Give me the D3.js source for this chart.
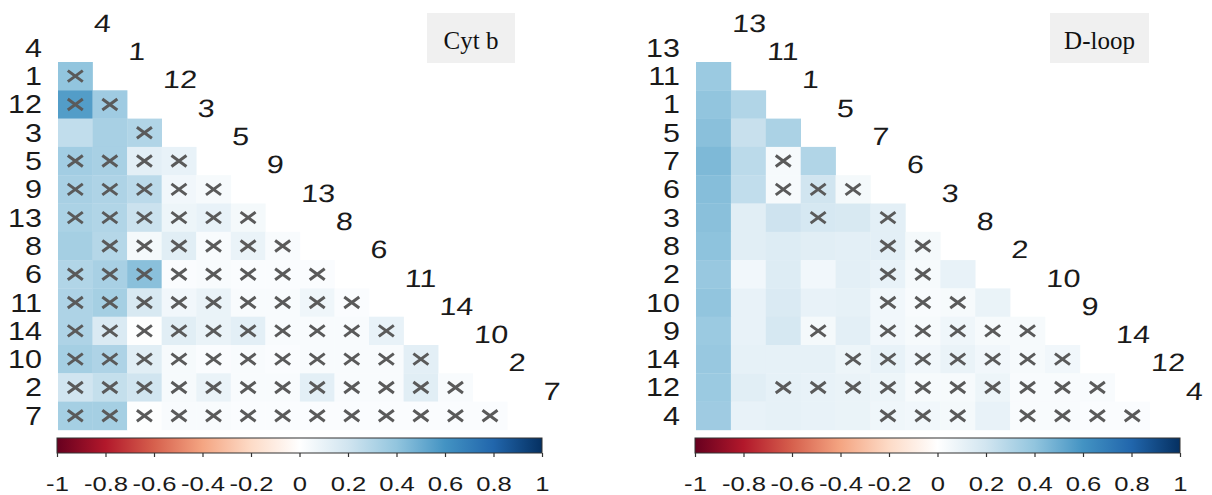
<!DOCTYPE html>
<html>
<head>
<meta charset="utf-8">
<script src="https://cdn.jsdelivr.net/npm/d3@7"></script>
<style>
  body { margin: 0; background: #fff; }
  svg { display: block; }
</style>
</head>
<body>
<script>
// Cyt b panel: variable order and lower-triangle correlations (row i has i values)
var cytLabels = ["4", "1", "12", "3", "5", "9", "13", "8", "6", "11", "14", "10", "2", "7"];
var cytValues = [
  [],
  [0.40],
  [0.56, 0.36],
  [0.25, 0.33, 0.30],
  [0.35, 0.33, 0.12, 0.10],
  [0.33, 0.31, 0.27, 0.06, 0.04],
  [0.32, 0.30, 0.22, 0.08, 0.10, 0.05],
  [0.34, 0.29, 0.05, 0.13, 0.03, 0.09, 0.03],
  [0.30, 0.33, 0.42, 0.02, 0.03, 0.02, 0.02, 0.02],
  [0.31, 0.34, 0.17, 0.06, 0.09, 0.03, 0.03, 0.07, 0.02],
  [0.31, 0.16, 0.01, 0.13, 0.09, 0.12, 0.03, 0.03, 0.03, 0.10],
  [0.34, 0.31, 0.13, 0.04, 0.02, 0.03, 0.02, 0.03, 0.03, 0.03, 0.12],
  [0.20, 0.24, 0.20, 0.04, 0.09, 0.03, 0.03, 0.12, 0.03, 0.03, 0.13, 0.03],
  [0.34, 0.34, 0.01, 0.03, 0.03, 0.02, 0.02, 0.02, 0.02, 0.02, 0.02, 0.02, 0.02]
];
// 1 = not significant (drawn with a cross)
var cytCross = [
  [],
  [1],
  [1, 1],
  [0, 0, 1],
  [1, 1, 1, 1],
  [1, 1, 1, 1, 1],
  [1, 1, 1, 1, 1, 1],
  [0, 1, 1, 1, 1, 1, 1],
  [1, 1, 1, 1, 1, 1, 1, 1],
  [1, 1, 1, 1, 1, 1, 1, 1, 1],
  [1, 1, 1, 1, 1, 1, 1, 1, 1, 1],
  [1, 1, 1, 1, 1, 1, 1, 1, 1, 1, 1],
  [1, 1, 1, 1, 1, 1, 1, 1, 1, 1, 1, 1],
  [1, 1, 1, 1, 1, 1, 1, 1, 1, 1, 1, 1, 1]
];

// D-loop panel
var dloopLabels = ["13", "11", "1", "5", "7", "6", "3", "8", "2", "10", "9", "14", "12", "4"];
var dloopValues = [
  [],
  [0.37],
  [0.40, 0.30],
  [0.42, 0.23, 0.32],
  [0.45, 0.27, 0.04, 0.30],
  [0.43, 0.25, 0.04, 0.20, 0.05],
  [0.42, 0.13, 0.21, 0.18, 0.17, 0.12],
  [0.41, 0.13, 0.15, 0.13, 0.12, 0.12, 0.05],
  [0.38, 0.06, 0.15, 0.06, 0.12, 0.10, 0.04, 0.10],
  [0.40, 0.10, 0.16, 0.10, 0.11, 0.06, 0.03, 0.04, 0.09],
  [0.37, 0.10, 0.18, 0.05, 0.12, 0.06, 0.04, 0.07, 0.04, 0.04],
  [0.38, 0.11, 0.11, 0.11, 0.08, 0.10, 0.06, 0.09, 0.06, 0.04, 0.06],
  [0.37, 0.13, 0.11, 0.10, 0.09, 0.08, 0.04, 0.04, 0.08, 0.03, 0.03, 0.03],
  [0.36, 0.10, 0.11, 0.10, 0.09, 0.07, 0.06, 0.05, 0.10, 0.03, 0.03, 0.02, 0.02]
];
var dloopCross = [
  [],
  [0],
  [0, 0],
  [0, 0, 0],
  [0, 0, 1, 0],
  [0, 0, 1, 1, 1],
  [0, 0, 0, 1, 0, 1],
  [0, 0, 0, 0, 0, 1, 1],
  [0, 0, 0, 0, 0, 1, 1, 0],
  [0, 0, 0, 0, 0, 1, 1, 1, 0],
  [0, 0, 0, 1, 0, 1, 1, 1, 1, 1],
  [0, 0, 0, 0, 1, 1, 1, 1, 1, 1, 1],
  [0, 0, 1, 1, 1, 1, 1, 1, 1, 1, 1, 1],
  [0, 0, 0, 0, 0, 1, 1, 1, 0, 1, 1, 1, 1]
];

// colour bar ticks
var barTicks = [-1, -0.8, -0.6, -0.4, -0.2, 0, 0.2, 0.4, 0.6, 0.8, 1];

// RdBu palette (corrplot style), -1 .. 1
var palette = ["#67001F", "#B2182B", "#D6604D", "#F4A582", "#FDDBC7", "#FFFFFF",
               "#D1E5F0", "#92C5DE", "#4393C3", "#2166AC", "#053061"];
var color = d3.scaleLinear()
    .domain(d3.range(palette.length).map(function(i) { return -1 + 2 * i / (palette.length - 1); }))
    .range(palette);

var W = 1212, H = 495;
var stretch = 1.22;   // figure is stretched horizontally

var svg = d3.select("body").append("svg")
    .attr("width", W)
    .attr("height", H);

// one gradient for both colour bars
var grad = svg.append("defs").append("linearGradient")
    .attr("id", "rdbu")
    .attr("x1", "0%").attr("x2", "100%");
grad.selectAll("stop")
    .data(palette)
    .enter().append("stop")
    .attr("offset", function(d, i) { return (100 * i / (palette.length - 1)) + "%"; })
    .attr("stop-color", function(d) { return d; });

function drawPanel(opt) {
  var n = opt.labels.length;
  var g = svg.append("g");

  var x = d3.scaleBand()
      .domain(opt.labels)
      .range([opt.x0, opt.x0 + n * opt.cw]);
  var y = d3.scaleBand()
      .domain(opt.labels)
      .range([opt.y0, opt.y0 + n * opt.ch]);

  // flatten lower triangle
  var cells = [];
  opt.values.forEach(function(row, i) {
    row.forEach(function(v, j) {
      cells.push({ r: opt.labels[i], c: opt.labels[j], v: v, cross: opt.cross[i][j] });
    });
  });

  g.selectAll("rect.cell")
    .data(cells)
    .enter().append("rect")
    .attr("class", "cell")
    .attr("x", function(d) { return x(d.c); })
    .attr("y", function(d) { return y(d.r); })
    .attr("width", x.bandwidth() + 0.3)
    .attr("height", y.bandwidth() + 0.3)
    .attr("fill", function(d) { return color(d.v); });

  // crosses for non significant pairs
  g.selectAll("path.cross")
    .data(cells.filter(function(d) { return d.cross; }))
    .enter().append("path")
    .attr("class", "cross")
    .attr("transform", function(d) {
      return "translate(" + (x(d.c) + x.bandwidth() / 2) + "," + (y(d.r) + y.bandwidth() / 2) + ")";
    })
    .attr("d", "M-7.5,-5.5L7.5,5.5M-7.5,5.5L7.5,-5.5")
    .attr("stroke", "#5a5a5a")
    .attr("stroke-width", 3)
    .attr("fill", "none");

  // row labels on the left
  g.selectAll("text.rowlab")
    .data(opt.labels)
    .enter().append("text")
    .attr("class", "rowlab")
    .attr("transform", function(d) {
      return "translate(" + (opt.x0 - 16) + "," + (y(d) + y.bandwidth() / 2 + 9) + ") scale(" + stretch + ",1)";
    })
    .attr("text-anchor", "end")
    .style("font-family", "'Liberation Sans', Arial, sans-serif")
    .style("font-size", "25px")
    .attr("fill", "#1a1a1a")
    .text(function(d) { return d; });

  // column labels along the diagonal
  g.selectAll("text.collab")
    .data(opt.labels)
    .enter().append("text")
    .attr("class", "collab")
    .attr("transform", function(d) {
      return "translate(" + (x(d) + x.bandwidth() + 1) + "," + (y(d) + y.bandwidth() / 2 - 16) + ") scale(" + stretch + ",1) skewX(-3)";
    })
    .attr("text-anchor", "start")
    .style("font-family", "'Liberation Sans', Arial, sans-serif")
    .style("font-size", "25px")
    .attr("fill", "#1a1a1a")
    .text(function(d) { return d; });

  // colour bar
  var bx = d3.scaleLinear().domain([-1, 1]).range([opt.bar0, opt.bar1]);
  g.append("rect")
    .attr("x", bx(-1))
    .attr("y", opt.barY)
    .attr("width", bx(1) - bx(-1))
    .attr("height", 15)
    .attr("fill", "url(#rdbu)")
    .attr("stroke", "#333")
    .attr("stroke-width", 1);

  var axis = d3.axisBottom(bx)
      .tickValues(barTicks)
      .tickSize(4)
      .tickPadding(19)
      .tickFormat(function(d) { return String(d); });

  var ax = g.append("g")
    .attr("transform", "translate(0," + (opt.barY + 15) + ")")
    .call(axis);
  ax.select(".domain").remove();
  ax.selectAll(".tick line").attr("stroke", "#333").attr("stroke-width", 1.2);
  ax.selectAll(".tick text")
    .attr("transform", "scale(" + stretch + ",1)")
    .attr("fill", "#1a1a1a")
    .style("font-family", "'Liberation Sans', Arial, sans-serif")
    .style("font-size", "21px");

  // title box
  g.append("rect")
    .attr("x", opt.box[0])
    .attr("y", opt.box[1])
    .attr("width", opt.box[2])
    .attr("height", opt.box[3])
    .attr("fill", "#f0f0f0");
  g.append("text")
    .attr("x", opt.box[0] + opt.box[2] / 2)
    .attr("y", opt.box[1] + 36)
    .attr("text-anchor", "middle")
    .style("font-family", "'Liberation Serif', 'Times New Roman', serif")
    .style("font-size", "25px")
    .attr("fill", "#111")
    .text(opt.title);
}

drawPanel({
  labels: cytLabels, values: cytValues, cross: cytCross,
  x0: 58, y0: 33.7, cw: 34.56, ch: 28.3,
  bar0: 57, bar1: 542, barY: 438,
  box: [427, 13, 88, 50], title: "Cyt b"
});

drawPanel({
  labels: dloopLabels, values: dloopValues, cross: dloopCross,
  x0: 696, y0: 33.7, cw: 34.9, ch: 28.3,
  bar0: 695, bar1: 1180, barY: 438,
  box: [1050, 13, 99, 50], title: "D-loop"
});
</script>
</body>
</html>
